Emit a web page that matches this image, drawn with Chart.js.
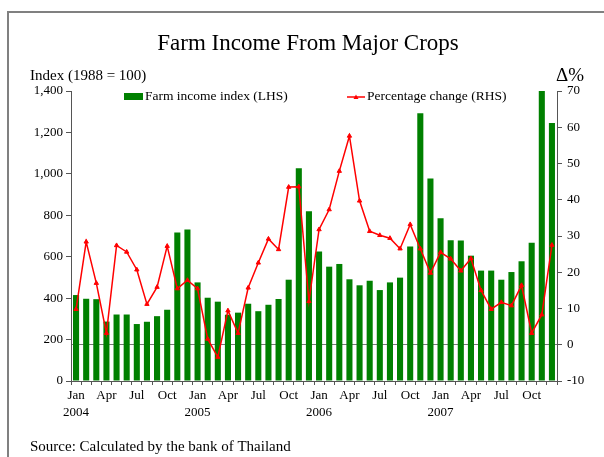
<!DOCTYPE html>
<html>
<head>
<meta charset="utf-8">
<script src="https://cdn.jsdelivr.net/npm/chart.js@4"></script>
<style>
  body { margin: 0; background: #fff; }
  #wrap { width: 604px; height: 457px; position: relative; }
</style>
</head>
<body>
<div id="wrap"><canvas id="chart" width="604" height="457"></canvas></div>
<script>
const monthNames = ["Jan", "Feb", "Mar", "Apr", "May", "Jun", "Jul", "Aug", "Sep", "Oct", "Nov", "Dec"];
const years = ["2004", "2005", "2006", "2007"];

// Farm income index (LHS), Jan 2004 - Dec 2007
const incomeIndex = [
  415, 397, 395, 287, 321, 321, 275, 286, 313, 344, 717, 731,
  476, 402, 383, 320, 330, 373, 337, 368, 396, 489, 1027, 819,
  625, 552, 565, 491, 462, 484, 439, 476, 499, 649, 1292, 978,
  786, 680, 678, 605, 533, 533, 489, 526, 578, 667, 1400, 1246
];

// Percentage change (RHS)
const pctChange = [
  9.8, 28.4, 17.0, 3.2, 27.4, 25.6, 20.7, 11.2, 15.9, 27.2, 15.5, 17.8,
  15.5, 1.6, -3.4, 9.4, 3.2, 15.7, 22.6, 29.2, 26.3, 43.5, 43.6, 12.0,
  31.8, 37.3, 47.9, 57.6, 39.7, 31.3, 30.2, 29.4, 26.5, 33.2, 26.5, 19.8,
  25.5, 23.7, 20.4, 23.8, 15.0, 9.8, 11.7, 10.8, 16.4, 3.2, 8.3, 27.5
];

const labels = [];
for (let y of years) {
  for (let m of monthNames) {
    labels.push(m + " " + y);
  }
}

const serif = "'Liberation Serif', 'DejaVu Serif', serif";
const axisColor = "#555";

const decorations = {
  id: "decorations",
  afterDraw(chart) {
    let ctx = chart.ctx;
    ctx.save();
    // frame
    ctx.strokeStyle = "#808080";
    ctx.lineWidth = 2;
    ctx.beginPath();
    ctx.moveTo(8, 457);
    ctx.lineTo(8, 12);
    ctx.lineTo(604, 12);
    ctx.stroke();

    ctx.fillStyle = "#000";
    ctx.textBaseline = "middle";
    ctx.textAlign = "center";
    ctx.font = "23px " + serif;
    ctx.fillText("Farm Income From Major Crops", 308, 44);

    ctx.textAlign = "left";
    ctx.font = "15px " + serif;
    ctx.fillText("Index (1988 = 100)", 30, 76);
    ctx.font = "19px " + serif;
    ctx.fillText("Δ%", 556, 76);
    ctx.font = "15px " + serif;
    ctx.fillText("Source: Calculated by the bank of Thailand", 30, 447);

    // legend
    ctx.font = "13.5px " + serif;
    ctx.fillStyle = "#008000";
    ctx.fillRect(124, 93, 19, 7);
    ctx.fillStyle = "#000";
    ctx.fillText("Farm income index (LHS)", 145, 96.5);

    ctx.strokeStyle = "#ff0000";
    ctx.lineWidth = 1.5;
    ctx.beginPath();
    ctx.moveTo(347, 97);
    ctx.lineTo(365, 97);
    ctx.stroke();
    ctx.fillStyle = "#ff0000";
    ctx.beginPath();
    ctx.moveTo(356, 94.5);
    ctx.lineTo(358.5, 99);
    ctx.lineTo(353.5, 99);
    ctx.closePath();
    ctx.fill();
    ctx.fillStyle = "#000";
    ctx.fillText("Percentage change (RHS)", 367, 96.5);
    ctx.restore();
  }
};

new Chart(document.getElementById("chart"), {
  type: "bar",
  data: {
    labels: labels,
    datasets: [
      {
        type: "line",
        label: "Percentage change (RHS)",
        data: pctChange,
        yAxisID: "y1",
        borderColor: "#ff0000",
        backgroundColor: "#ff0000",
        borderWidth: 1.5,
        pointStyle: "triangle",
        pointRadius: 2.5,
        pointBorderWidth: 1,
        tension: 0,
        order: 0
      },
      {
        label: "Farm income index (LHS)",
        data: incomeIndex,
        yAxisID: "y",
        backgroundColor: "#008000",
        barPercentage: 0.6,
        categoryPercentage: 1,
        order: 1
      }
    ]
  },
  options: {
    responsive: false,
    animation: false,
    layout: { padding: { top: 91, left: 0, right: 0, bottom: 0 } },
    plugins: {
      legend: { display: false },
      title: { display: false },
      tooltip: { enabled: false }
    },
    scales: {
      x: {
        offset: true,
        afterFit: (scale) => { scale.height = 76; },
        border: { display: true, color: axisColor },
        grid: {
          offset: true,
          drawOnChartArea: false,
          drawTicks: true,
          tickLength: 4,
          tickColor: axisColor
        },
        ticks: {
          autoSkip: false,
          maxRotation: 0,
          padding: 2,
          color: "#000",
          font: { family: serif, size: 13, lineHeight: 1.3 },
          callback: function (value, index) {
            if (index % 3 != 0) return "";
            let m = monthNames[index % 12];
            if (index % 12 == 0) return [m, years[Math.floor(index / 12)]];
            return m;
          }
        }
      },
      y: {
        position: "left",
        min: 0,
        max: 1400,
        afterFit: (scale) => { scale.width = 71; },
        border: { display: true, color: axisColor },
        grid: {
          drawOnChartArea: false,
          tickLength: 5,
          tickColor: axisColor
        },
        ticks: {
          stepSize: 200,
          padding: 3,
          color: "#000",
          font: { family: serif, size: 13 },
          callback: (v) => v.toLocaleString("en-US")
        }
      },
      y1: {
        position: "right",
        min: -10,
        max: 70,
        afterFit: (scale) => { scale.width = 47; },
        border: { display: true, color: axisColor },
        grid: {
          drawOnChartArea: true,
          tickLength: 5,
          tickColor: axisColor,
          color: (ctx) => (ctx.tick && ctx.tick.value === 0 ? "#777" : "rgba(0,0,0,0)")
        },
        ticks: {
          stepSize: 10,
          padding: 5,
          color: "#000",
          font: { family: serif, size: 13 }
        }
      }
    }
  },
  plugins: [decorations]
});
</script>
</body>
</html>
